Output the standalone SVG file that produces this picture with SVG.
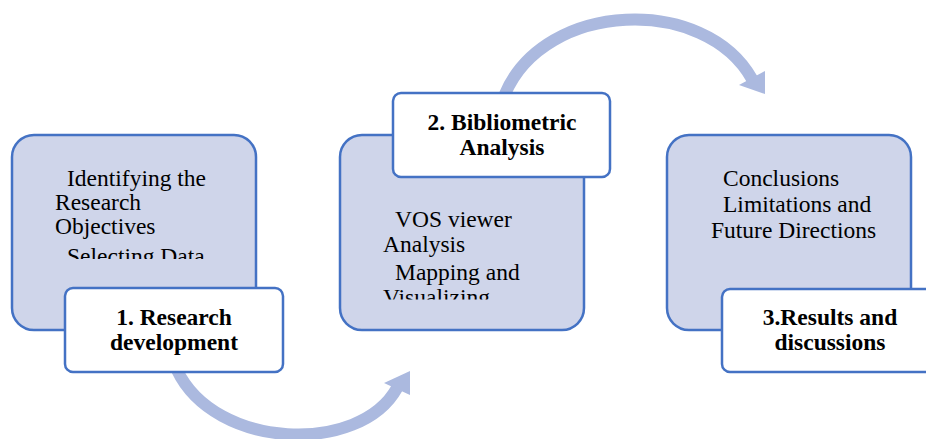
<svg xmlns="http://www.w3.org/2000/svg" width="926" height="439" viewBox="0 0 926 439">
  <style>
    .stage { fill: #CFD5EA; stroke: #4472C4; stroke-width: 2.5; }
    .label { fill: #FFFFFF; stroke: #4472C4; stroke-width: 2.5; }
    .body { font-family: "Liberation Serif", "Times New Roman", serif; font-size: 23.5px; fill: #000; }
    .title { font-family: "Liberation Serif", "Times New Roman", serif; font-size: 23.5px; font-weight: bold; fill: #000; text-anchor: middle; }
    .flow { fill: none; stroke: #ABB9DF; stroke-width: 12; }
    .head { fill: #ABB9DF; }
  </style>
  <defs>
    <clipPath id="clip1"><rect x="20" y="150" width="230" height="109"/></clipPath>
    <clipPath id="clip2"><rect x="350" y="190" width="230" height="109.5"/></clipPath>
  </defs>
  <rect width="926" height="439" fill="#FFFFFF"/>

  <g id="connectors">
    <path class="flow" d="M505,94 C545,0 705,-5 752,79"/>
    <polygon class="head" points="739,85 765,71 765,94"/>
    <path class="flow" d="M177,370 C215,450 360,455 397,388"/>
    <polygon class="head" points="384,383 410,371 410,395"/>
  </g>

  <g id="stage1">
    <rect class="stage" x="12" y="135" width="244" height="195" rx="22"/>
    <g class="body" clip-path="url(#clip1)">
      <text x="67" y="186">Identifying the</text>
      <text x="55" y="210">Research</text>
      <text x="55" y="234">Objectives</text>
      <text x="67" y="264">Selecting Data</text>
    </g>
  </g>
  <g id="label1">
    <rect class="label" x="65" y="288" width="218" height="84" rx="8"/>
    <text class="title" x="174" y="325">1. Research</text>
    <text class="title" x="174" y="350">development</text>
  </g>

  <g id="stage2">
    <rect class="stage" x="340" y="135" width="244" height="195" rx="22"/>
    <g class="body" clip-path="url(#clip2)">
      <text x="395" y="227">VOS viewer</text>
      <text x="383" y="252">Analysis</text>
      <text x="395" y="280">Mapping and</text>
      <text x="383" y="305">Visualizing</text>
    </g>
  </g>
  <g id="label2">
    <rect class="label" x="393" y="93" width="217" height="84" rx="8"/>
    <text class="title" x="502" y="130">2. Bibliometric</text>
    <text class="title" x="502" y="155">Analysis</text>
  </g>

  <g id="stage3">
    <rect class="stage" x="667" y="135" width="244" height="195" rx="22"/>
    <g class="body">
      <text x="723" y="186">Conclusions</text>
      <text x="723" y="212">Limitations and</text>
      <text x="711" y="238">Future Directions</text>
    </g>
  </g>
  <g id="label3">
    <rect class="label" x="722" y="289" width="230" height="83" rx="8"/>
    <text class="title" x="830" y="325">3.Results and</text>
    <text class="title" x="830" y="350">discussions</text>
  </g>
</svg>
